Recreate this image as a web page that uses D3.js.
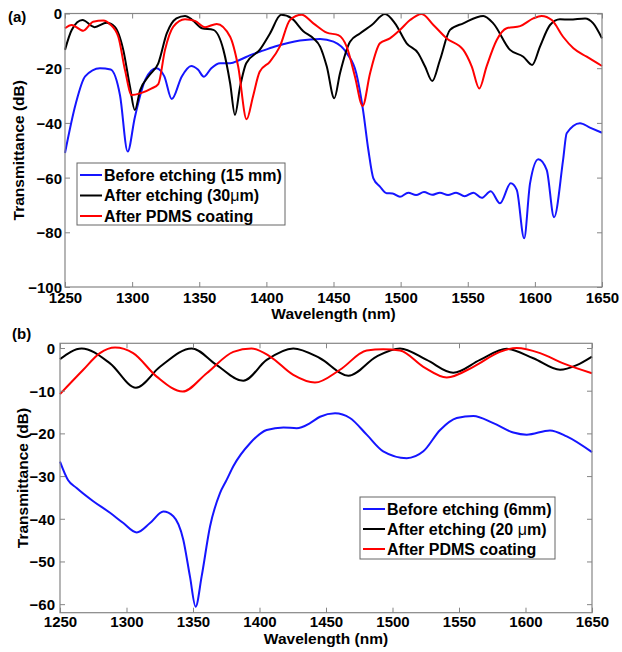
<!DOCTYPE html>
<html><head><meta charset="utf-8">
<script src="https://cdn.jsdelivr.net/npm/d3@7/dist/d3.min.js"></script>
<style>body{margin:0;background:#fff}svg{display:block}text{font-family:"Liberation Sans",Arial,sans-serif}</style>
</head><body><svg id="c" width="622" height="652"></svg>
<script>
// ---------- Panel (a) data ----------
const aTicksX = [1250,1300,1350,1400,1450,1500,1550,1600,1650];
const aTicksY = [0,-20,-40,-60,-80,-100];
const aBlueWl = [1250,1258,1265,1276,1284,1291,1296.7,1302,1310,1318,1324,1329.5,1337,1344,1349,1353.5,1359,1365.5,1373,1380,1388,1398,1407.7,1425,1440,1450,1460,1467,1472,1476,1479.7,1484.6,1489.6,1494,1499.5,1505.7,1511.5,1517.4,1523.4,1529.3,1535.3,1541.3,1547.7,1554.2,1560.4,1567.1,1574,1582,1586.5,1592,1596.4,1602.6,1608.8,1614.3,1621,1623.7,1633.6,1641,1650];
const aBlueDb = [-51,-33,-23,-20,-20.5,-30,-50.5,-38,-24,-20,-23,-31.3,-23,-19.2,-20.5,-23.1,-20,-18.2,-18.2,-17,-15.2,-13.5,-11.9,-9.9,-9.3,-10.3,-14.6,-21.9,-35.3,-50,-60.3,-63.3,-65.7,-65.8,-67,-65.5,-66.4,-65.3,-66.3,-65.5,-66.4,-65.5,-66.8,-65.5,-67.4,-65,-69.4,-62.1,-64.5,-82.2,-62.1,-53.3,-57.2,-74.5,-53.6,-43.8,-40.1,-41.7,-43.6];
const aBlackWl = [1250,1255,1263,1272,1281,1287,1293.4,1298.4,1302,1306,1313,1319.5,1325.8,1333,1339.4,1345,1352,1360.5,1368,1373,1376.6,1380.4,1385,1395,1402.7,1411,1418.9,1427.5,1435,1440,1445,1450.6,1454.8,1462.3,1469.7,1478.5,1488.4,1495.8,1504.5,1513.2,1518.2,1523.6,1529.3,1536.8,1546.7,1561.6,1569,1581.5,1591.4,1598,1603.8,1611.3,1618.7,1626,1637.4,1643.5,1650];
const aBlackDb = [-13.3,-6,-2.4,-5,-3.4,-4.8,-13.3,-26.8,-35.3,-28,-22.5,-18.2,-7.3,-1.8,-0.9,-2.4,-5.4,-6,-13.3,-25.5,-37.1,-26.8,-18.2,-13.3,-7.3,-0.5,-1.8,-6.5,-9.1,-12.1,-19.4,-31,-21.9,-10.3,-7.3,-4.2,-0.2,-3.6,-10.9,-14.6,-19.4,-24.7,-17,-6,-3.6,-0.9,-3.6,-13.3,-15.8,-18.8,-12.1,-4.2,-2.1,-2.2,-1.8,-3.6,-9.1];
const aRedWl = [1250,1255,1263.6,1271,1278.5,1283.5,1289.7,1294.7,1299.7,1306,1314.6,1319.5,1324.5,1330.7,1339.4,1346.8,1354.3,1363,1373,1379,1385.3,1390,1395,1402.7,1410,1417.6,1426.3,1435,1445,1453.6,1459.8,1466,1471.7,1477.2,1484.6,1492,1499.5,1507,1515.7,1524.4,1534.3,1546.7,1553,1558.6,1564,1571.6,1579,1589,1598.8,1605,1612.6,1621,1628.7,1638.6,1650];
const aRedDb = [-5.4,-4.2,-6.3,-3,-2.6,-3.9,-8.5,-20.7,-29.8,-29.2,-27.4,-25.8,-13.3,-4.8,-2.1,-2.7,-5,-3.8,-8.5,-19.4,-38.7,-30.4,-21.3,-17.6,-12.1,-2.4,-0.5,-3.6,-7,-7.9,-12.1,-23.1,-33.8,-21.9,-10.9,-9.1,-6,-2.4,-0.2,-4.2,-9.1,-13.3,-19.4,-27.4,-19.4,-9.7,-5.4,-4.6,-1.8,-0.9,-2.4,-8.5,-12.7,-15.8,-19.2];

// ---------- Panel (b) data ----------
const bTicksX = [1250,1300,1350,1400,1450,1500,1550,1600,1650];
const bTicksY = [0,-10,-20,-30,-40,-50,-60];
const bBlueWl = [1250,1256,1262.5,1275,1287.6,1297.6,1307.7,1317.7,1327.7,1335.2,1342.7,1347.7,1352,1356.5,1362.8,1370.3,1375.3,1380.3,1392.9,1405.4,1418,1428,1438,1445.5,1456.8,1468,1480.6,1493,1510.7,1523.2,1535.8,1548.3,1560.8,1575.8,1590.8,1600.9,1618.4,1631,1650];
const bBlueDb = [-26.6,-30.9,-32.8,-35.9,-38.6,-41,-43.2,-41,-38.3,-39.4,-44.9,-53.5,-60.6,-53.5,-41.8,-34,-30.9,-27.7,-22.3,-19.2,-18.6,-18.8,-17.6,-16.1,-15.3,-16.4,-20.3,-24.2,-25.8,-24.2,-19.2,-16.4,-15.9,-17.6,-19.8,-20.3,-19.3,-20.7,-24.4];
const bBlackWl = [1250,1266.3,1287.6,1307.1,1325.2,1349,1367.8,1387.8,1405.4,1425.4,1445.5,1466.8,1488,1505.6,1525.7,1545.7,1565.8,1585.9,1605.9,1626,1638.5,1650];
const bBlackDb = [-2.6,-0.1,-3.6,-9.3,-4.4,-0.1,-4,-7.7,-2.8,-0.1,-2.4,-6.5,-2,-0.1,-2.8,-5.8,-2.8,-0.2,-2.4,-5.1,-4,-2];
const bRedWl = [1250,1267.5,1280,1291.4,1305,1322.7,1342.2,1360.3,1380.3,1394,1408,1425.4,1441.7,1460.5,1480.6,1493,1505.6,1523.2,1540.8,1560.8,1580.8,1593.4,1611,1628.4,1650];
const bRedDb = [-10.8,-5.1,-1.2,0.1,-1.2,-6.7,-10.2,-5.9,-0.9,-0.1,-2,-6.3,-8.1,-5.1,-0.6,-0.3,-0.6,-4.4,-6.9,-4.4,-0.9,0,-1.2,-3.6,-5.9];

const seriesColors = ["#1515ff","#000000","#ff0000"];
const aLegend = ["Before etching (15 mm)","After etching (30|μ|m)","After PDMS coating"];
const bLegend = ["Before etching (6mm)","After etching (20 |μ|m)","After PDMS coating"];

const svg = d3.select("#c");

function panel(o){
  const x = d3.scaleLinear().domain([1250,1650]).range([o.x0,o.x1]);
  const y = d3.scaleLinear().domain(o.yDom).range([o.y1,o.y0]);
  const g = svg.append("g");
  const line = d3.line().x(d=>x(d[0])).y(d=>y(d[1])).curve(d3.curveMonotoneX);
  o.series.forEach((s,i)=>{
    g.append("path").attr("d",line(d3.zip(s[0],s[1]))).attr("fill","none")
     .attr("stroke",seriesColors[i]).attr("stroke-width",2).attr("stroke-linejoin","round");
  });
  g.append("rect").attr("x",o.x0).attr("y",o.y0).attr("width",o.x1-o.x0).attr("height",o.y1-o.y0)
   .attr("fill","none").attr("stroke","#858585").attr("stroke-width",1.2);
  const tl = 5;
  const xb = g.append("g").attr("transform",`translate(0,${o.y1})`)
    .call(d3.axisBottom(x).tickValues(o.tx).tickSize(-tl).tickPadding(0).tickFormat(d3.format("d")));
  xb.select(".domain").remove();
  xb.selectAll("line").attr("stroke","#858585");
  xb.selectAll("text").attr("dy",null).attr("y",o.xLabOff).attr("font-size",15).attr("font-weight","bold").attr("fill","#000")
    .style("font-family","'Liberation Sans',Arial,sans-serif");
  const xt = g.append("g").attr("transform",`translate(0,${o.y0})`)
    .call(d3.axisTop(x).tickValues(o.tx).tickSize(-tl).tickFormat(""));
  xt.select(".domain").remove(); xt.selectAll("line").attr("stroke","#858585");
  const yl = g.append("g").attr("transform",`translate(${o.x0},0)`)
    .call(d3.axisLeft(y).tickValues(o.ty).tickSize(-tl).tickPadding(0).tickFormat(d3.format("d")));
  yl.select(".domain").remove(); yl.selectAll("line").attr("stroke","#858585");
  yl.selectAll("text").attr("x",-o.yLabGap).attr("dy","0.36em").attr("font-size",15).attr("font-weight","bold").attr("fill","#000")
    .style("font-family","'Liberation Sans',Arial,sans-serif");
  const yr = g.append("g").attr("transform",`translate(${o.x1},0)`)
    .call(d3.axisRight(y).tickValues(o.ty).tickSize(-tl).tickFormat(""));
  yr.select(".domain").remove(); yr.selectAll("line").attr("stroke","#858585");
  g.append("text").attr("x",(o.x0+o.x1)/2).attr("y",o.xTitleY).attr("text-anchor","middle")
   .attr("font-size",15.5).attr("font-weight","bold").text("Wavelength (nm)");
  g.append("text").attr("transform",`translate(${o.yTitleX},${(o.y0+o.y1)/2}) rotate(-90)`).attr("text-anchor","middle")
   .attr("font-size",15.5).attr("font-weight","bold").text("Transmittance (dB)");
  g.append("text").attr("x",o.tagX).attr("y",o.tagY).attr("font-size",15).attr("font-weight","bold").text(o.tag);
  const L = o.leg;
  g.append("rect").attr("x",L.x).attr("y",L.y).attr("width",L.w).attr("height",L.h)
   .attr("fill","#fff").attr("stroke","#666").attr("stroke-width",1);
  o.legText.forEach((t,i)=>{
    const cy = L.y + L.r0 + i*L.dy;
    g.append("line").attr("x1",L.x+3).attr("x2",L.x+25).attr("y1",cy).attr("y2",cy)
     .attr("stroke",seriesColors[i]).attr("stroke-width",2);
    const tx = g.append("text").attr("x",L.x+27).attr("y",cy).attr("dy","0.36em")
     .attr("font-size",L.fs).attr("font-weight","bold").attr("fill","#000");
    t.split("|").forEach((p,k)=>{
      tx.append("tspan").text(p).attr("font-weight",p==="μ"?"normal":"bold");
    });
  });
}

panel({x0:65,x1:602,y0:13.5,y1:287,yDom:[-100,0],tx:aTicksX,ty:aTicksY,
  series:[[aBlueWl,aBlueDb],[aBlackWl,aBlackDb],[aRedWl,aRedDb]],
  xLabOff:15.5,yLabGap:3,xTitleY:318.5,yTitleX:24,tag:"(a)",tagX:8,tagY:22,
  leg:{x:77,y:163,w:208,h:62,r0:12,dy:20.5,fs:16},legText:aLegend});

panel({x0:60,x1:592,y0:343.3,y1:612.7,yDom:[-62,1.1],tx:bTicksX,ty:bTicksY,
  series:[[bBlueWl,bBlueDb],[bBlackWl,bBlackDb],[bRedWl,bRedDb]],
  xLabOff:14.5,yLabGap:5,xTitleY:643.5,yTitleX:28,tag:"(b)",tagX:12,tagY:339,
  leg:{x:360,y:497,w:195,h:62,r0:12,dy:20,fs:16},legText:bLegend});
</script></body></html>
